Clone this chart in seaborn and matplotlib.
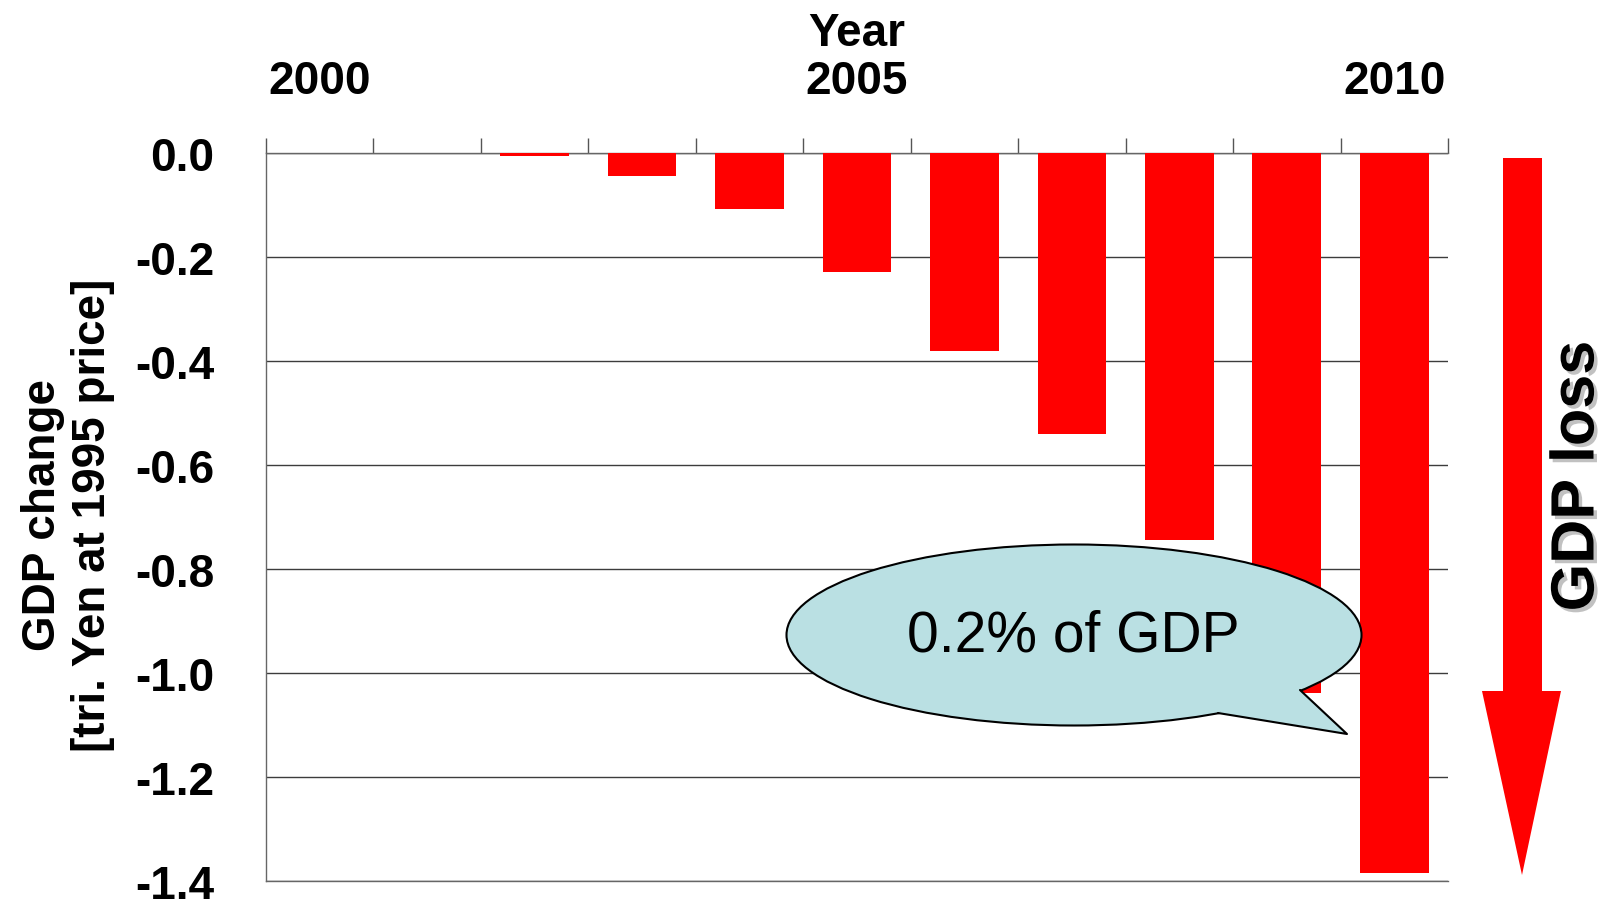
import matplotlib
matplotlib.use('Agg')
import matplotlib.pyplot as plt
import seaborn as sns
import pandas as pd
from matplotlib.patches import Ellipse, Polygon
from matplotlib.lines import Line2D
import matplotlib.patheffects as pe

# ---- data ----
years = ['2000', '2001', '2002', '2003', '2004', '2005', '2006', '2007', '2008', '2009', '2010']
gdp_change = [0.0, 0.0, -0.005, -0.045, -0.108, -0.229, -0.380, -0.540, -0.745, -1.038, -1.384]
labeled_years = ['2000', '2005', '2010']
y_ticks = [0.0, -0.2, -0.4, -0.6, -0.8, -1.0, -1.2, -1.4]
y_tick_labels = ['0.0', '-0.2', '-0.4', '-0.6', '-0.8', '-1.0', '-1.2', '-1.4']
callout_text = '0.2% of GDP'
side_text = 'GDP loss'
x_title = 'Year'
y_title = 'GDP change\n[tri. Yen at 1995 price]'

sns.set_theme(style='white')
plt.rcParams['font.family'] = ['Liberation Sans', 'DejaVu Sans']
plt.rcParams['text.color'] = 'black'
plt.rcParams['axes.labelcolor'] = 'black'
plt.rcParams['xtick.color'] = 'black'
plt.rcParams['ytick.color'] = 'black'

W, H = 1612, 903
fig = plt.figure(figsize=(W / 100, H / 100), dpi=100)
fig.patch.set_facecolor('white')

def fx(px):
    return px / W

def fy(py):
    return 1 - py / H

ax_left, ax_right, ax_top, ax_bottom = 266, 1448, 154, 882
ax = fig.add_axes([fx(ax_left), fy(ax_bottom), fx(ax_right - ax_left), (ax_bottom - ax_top) / H])

df = pd.DataFrame({'year': years, 'change': gdp_change})
sns.barplot(data=df, x='year', y='change', color='#FF0000', saturation=1,
            width=0.64, ax=ax, zorder=3, errorbar=None, linewidth=0, edgecolor='none')

ax.set_ylim(-1.4, 0)
ax.set_xlim(-0.5, len(years) - 0.5)
ax.set_facecolor('white')

# y axis
ax.set_yticks(y_ticks)
ax.set_yticklabels(y_tick_labels, fontsize=33, fontweight='bold', color='black')
ax.tick_params(axis='y', length=0, pad=37, labelcolor='black')
ax.yaxis.grid(True, color='#3c3c3c', linewidth=1.0, zorder=1)
ax.xaxis.grid(False)
ax.set_ylabel('')

# x axis on top
ax.xaxis.tick_top()
ax.xaxis.set_label_position('top')
ax.set_xticks(range(len(years)))
ax.set_xticklabels([y if y in labeled_years else '' for y in years], fontsize=33,
                   fontweight='bold', color='black')
ax.set_xticks([i - 0.5 for i in range(len(years) + 1)], minor=True)
ax.tick_params(axis='x', which='major', length=0, pad=36, top=True, bottom=False, labelcolor='black')
ax.tick_params(axis='x', which='minor', length=10.5, width=1.0, color='#555555', top=True, bottom=False)
ax.set_xlabel(x_title, fontsize=33, fontweight='bold', labelpad=10, color='black')

for side in ['left', 'top', 'bottom']:
    ax.spines[side].set_visible(True)
    ax.spines[side].set_color('#666666')
    ax.spines[side].set_linewidth(1.0)
ax.spines['right'].set_visible(False)

# y title
fig.text(fx(68), fy(515), y_title, rotation=90, ha='center', va='center', color='black',
         fontsize=33, fontweight='bold', linespacing=1.2, multialignment='center')

# red arrow on right
arrow_pts = [(1503, 159), (1542, 159), (1542, 692), (1561, 692), (1522, 876),
             (1482, 692), (1503, 692)]
fig.patches.append(Polygon([(fx(x), fy(y)) for x, y in arrow_pts], closed=True,
                           transform=fig.transFigure, facecolor='#FF0000', edgecolor='none'))

# GDP loss text
fig.text(fx(1578), fy(477), side_text, rotation=90, ha='center', va='center', color='black',
         fontsize=44, fontweight='bold',
         path_effects=[pe.withSimplePatchShadow(offset=(2.5, -2.5), shadow_rgbFace='#999999', alpha=0.6)])

# callout bubble
bubble_color = '#BAE0E3'
cx, cy, bw, bh = 1074, 636, 575, 181
ell = Ellipse((fx(cx), fy(cy)), bw / W, bh / H, transform=fig.transFigure,
              facecolor=bubble_color, edgecolor='black', linewidth=1.5, zorder=10)
fig.patches.append(ell)
A, T, B, C = (1218, 714), (1347, 735), (1300, 691), (1255, 690)
tail = Polygon([(fx(x), fy(y)) for x, y in [A, T, B, C]], closed=True,
               transform=fig.transFigure, facecolor=bubble_color, edgecolor='none', zorder=11)
fig.patches.append(tail)
fig.lines.append(Line2D([fx(A[0]), fx(T[0]), fx(B[0])], [fy(A[1]), fy(T[1]), fy(B[1])],
                        transform=fig.transFigure, color='black', linewidth=1.5, zorder=12))
fig.text(fx(1073), fy(637), callout_text, ha='center', va='center', fontsize=41,
         color='black', zorder=13)

fig.savefig('out.png', dpi=100, facecolor='white')
